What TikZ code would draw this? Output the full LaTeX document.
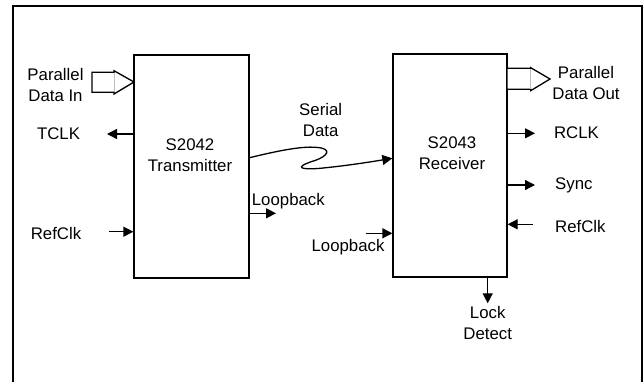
\documentclass[tikz,border=0pt]{standalone}
\usepackage{fontspec}
\setmainfont{Liberation Sans}
\usetikzlibrary{arrows.meta}
\begin{document}
\begin{tikzpicture}[x=1pt,y=-1pt,
  font=\fontsize{16.8}{21}\selectfont,
  blk/.style={draw, line width=1.3pt, minimum width=115pt, minimum height=223pt, inner sep=0pt},
  sig/.style={line width=1.3pt, -{Triangle[length=10pt,width=10pt]}},
  lbl/.style={inner sep=0pt, align=center},
  hollow/.style={draw, line width=1.3pt, fill=white}]
\useasboundingbox (0,0) rectangle (644,381);
% frame
\draw[line width=2pt] (12.7,395) -- (12.7,6.3) -- (642,6.3) -- (642,395);
% blocks
\node[blk] (tx) at (191.5,166.5) {};
\node[blk, minimum width=114pt] (rx) at (450,165.5) {};
\node[lbl] (txt) at (190,155) {S2042\\Transmitter};
\node[lbl] (rxt) at (452,153.5) {S2043\\Receiver};
% parallel data in / out (hollow arrows)
\draw[hollow, line join=miter] (92,72.3) -- (114,72.3) -- (114,70.7) -- (134,82) -- (114,94) -- (114,92.3) -- (92,92.3) -- cycle;
\draw[gray!50, line width=0.7pt] (114,73) -- (114,91.6);
\draw[hollow, line join=miter] (507,68.3) -- (530.7,68.3) -- (530.7,67.7) -- (550,79) -- (530.7,90.7) -- (530.7,89.3) -- (507,89.3) -- cycle;
\draw[gray!50, line width=0.7pt] (530.7,69) -- (530.7,88.6);
\node[lbl] (pdi) at (55.5,84.5) {Parallel\\Data In};
\node[lbl] (pdo) at (586,83) {Parallel\\Data Out};
% transmitter side signals
\coordinate (tclkend) at (107,134);
\draw[sig] (tx.west |- tclkend) -- (tclkend);
\node[lbl] (tclk) at (58.5,134) {TCLK};
\coordinate (refclkA) at (109,231.7);
\draw[sig] (refclkA) -- (tx.west |- refclkA);
\node[lbl] (refl) at (56,233) {RefClk};
\coordinate (lbtxend) at (276,213.3);
\draw[sig] (tx.east |- lbtxend) -- (lbtxend);
\node[lbl, anchor=west] (lbtx) at (251.7,200.7) {Loopback};
% serial data
\draw[sig] ([yshift=8.8pt]tx.east) .. controls (285,149) and (305,146) .. (318,147.5)
  .. controls (332,149) and (328,156) .. (315,160.5)
  .. controls (300,165) and (293,170) .. (318,168.5)
  .. controls (345,166) and (370,162) .. ([yshift=7.2pt]rx.west);
\node[lbl] (sd) at (320.7,119.5) {Serial\\Data};
% receiver side signals
\coordinate (rclkend) at (535,133.3);
\draw[sig] (rx.east |- rclkend) -- (rclkend);
\node[lbl] (rclk) at (576.5,133) {RCLK};
\coordinate (syncend) at (535,185);
\draw[sig] (rx.east |- syncend) -- (syncend);
\node[lbl, anchor=west] (sync) at (555,185) {Sync};
\coordinate (refrA) at (533,224.3);
\draw[sig] (refrA) -- (rx.east |- refrA);
\node[lbl, anchor=west] (refr) at (555,226.7) {RefClk};
\coordinate (lbrxA) at (366,233.3);
\draw[sig] (lbrxA) -- (rx.west |- lbrxA);
\node[lbl] (lbrx) at (348,246.7) {Loopback};
\coordinate (lockend) at (487.7,303.3);
\draw[sig] (rx.south -| lockend) -- (lockend);
\node[lbl] (lock) at (487.7,323) {Lock\\Detect};
\end{tikzpicture}
\end{document}
